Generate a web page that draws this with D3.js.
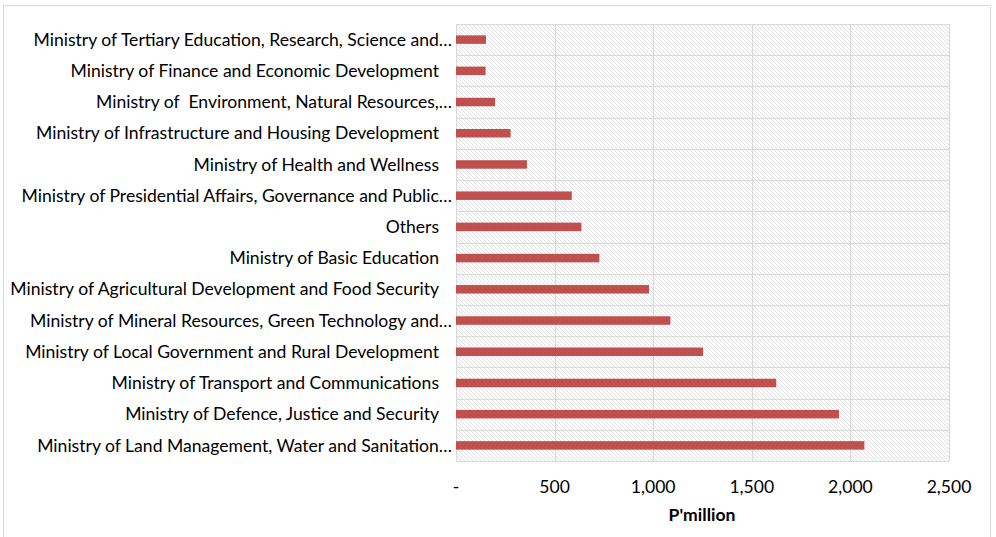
<!DOCTYPE html>
<html><head><meta charset="utf-8">
<script src="https://cdn.jsdelivr.net/npm/d3@7"></script>
<style>body{margin:0;background:#fff}svg{display:block}text{white-space:pre}</style>
</head><body>
<svg id="c" width="996" height="537"></svg>
<script>
const categories = [
  "Ministry of Land Management, Water and Sanitation…",
  "Ministry of Defence, Justice and Security",
  "Ministry of Transport and Communications",
  "Ministry of Local Government and Rural Development",
  "Ministry of Mineral Resources, Green Technology and…",
  "Ministry of Agricultural Development and Food Security",
  "Ministry of Basic Education",
  "Others",
  "Ministry of Presidential Affairs, Governance and Public…",
  "Ministry of Health and Wellness",
  "Ministry of Infrastructure and Housing Development",
  "Ministry of  Environment, Natural Resources,…",
  "Ministry of Finance and Economic Development",
  "Ministry of Tertiary Education, Research, Science and…"
];
const values = [2071, 1942, 1624, 1253, 1087, 979, 727, 636, 587, 360, 277, 198, 150, 152];
const xTicks = [0, 500, 1000, 1500, 2000, 2500];
const xTickLabels = ["-", "500", "1,000", "1,500", "2,000", "2,500"];
const axisTitle = "P'million";

const svg = d3.select("#c");
const font = "Lato, 'Open Sans', sans-serif";
const L = 456, R = 949, T = 24, B = 461;

svg.append("rect").attr("x",3.5).attr("y",5.5).attr("width",987).attr("height",540)
  .attr("fill","#fff").attr("stroke","#d9d9d9");

const defs = svg.append("defs");
const pat = defs.append("pattern").attr("id","hatch").attr("patternUnits","userSpaceOnUse")
  .attr("width",4).attr("height",4);
pat.append("rect").attr("width",4).attr("height",4).attr("fill","#fff");
pat.append("path").attr("d","M-1,-1 L5,5 M3,-1 L5,1 M-1,3 L1,5").attr("stroke","#e0e0e0").attr("stroke-width",1);

const x = d3.scaleLinear().domain([0,2500]).range([L,R]);
const y = d3.scaleBand().domain(categories.slice().reverse()).range([T,B]);

svg.append("rect").attr("x",L).attr("y",T).attr("width",R-L).attr("height",B-T).attr("fill","url(#hatch)");

svg.append("g").selectAll("line").data(xTicks).join("line")
  .attr("x1",d=>Math.round(x(d))+0.5).attr("x2",d=>Math.round(x(d))+0.5)
  .attr("y1",T).attr("y2",B).attr("stroke","#d9d9d9");
const bounds = d3.range(categories.length+1).map(i=>T+i*y.step());
svg.append("g").selectAll("line").data(bounds).join("line")
  .attr("x1",L).attr("x2",R).attr("y1",d=>Math.round(d)+0.5).attr("y2",d=>Math.round(d)+0.5)
  .attr("stroke","#d9d9d9");

const bh = 8.5;
svg.append("g").selectAll("rect").data(categories).join("rect")
  .attr("x",x(0)).attr("y",d=>y(d)+y.bandwidth()/2-bh/2)
  .attr("width",(d,i)=>x(values[i])-x(0)).attr("height",bh).attr("fill","#C0504D");

const lg = svg.append("g").attr("font-family",font).attr("fill","#000");
const probe = lg.append("text").attr("font-size",16).text(categories[0]);
const w = probe.node().getComputedTextLength();
probe.remove();
const fs = 16*415/w;
lg.selectAll("text").data(categories).join("text")
  .attr("x",d=>d.endsWith("…") ? 452 : 439).attr("y",d=>y(d)+y.bandwidth()/2).attr("dy","0.35em")
  .attr("text-anchor","end").attr("font-size",fs).text(d=>d);

const xg = svg.append("g").attr("font-family",font).attr("font-size",fs).attr("fill","#000");
xg.selectAll("text").data(xTicks).join("text")
  .attr("x",d=>x(d)).attr("y",487).attr("dy","0.35em").attr("text-anchor","middle")
  .text((d,i)=>xTickLabels[i]);
svg.append("text").attr("x",702).attr("y",515).attr("dy","0.35em").attr("text-anchor","middle")
  .attr("font-family",font).attr("font-weight","bold").attr("font-size",fs).text(axisTitle);
</script>
</body></html>
